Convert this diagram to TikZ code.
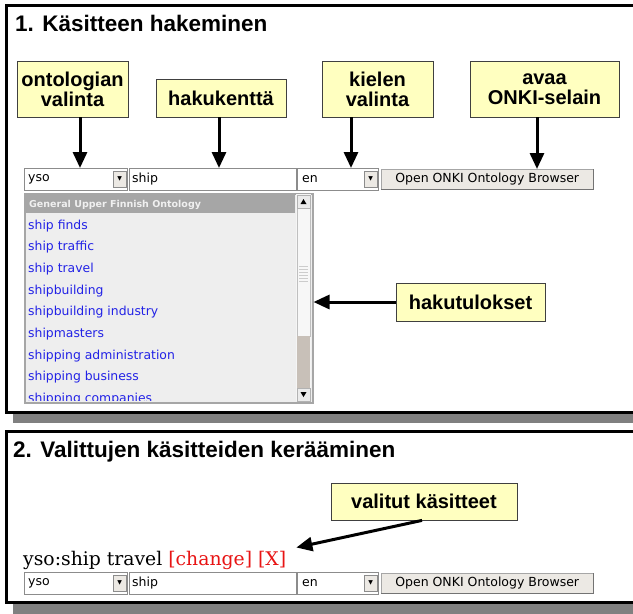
\documentclass[tikz,border=0pt]{standalone}
\usepackage{fontspec}
\setmainfont{DejaVu Sans}
\newfontfamily\labelfont{Liberation Sans}
\newfontfamily\webserif{DejaVu Serif}
\usepackage{tikz}
\usetikzlibrary{arrows.meta}

\definecolor{kelta}{RGB}{255,255,192}
\definecolor{varjo}{RGB}{128,128,128}
\definecolor{listatausta}{RGB}{238,238,238}
\definecolor{otsikkoharmaa}{RGB}{166,166,166}
\definecolor{linkki}{RGB}{34,34,230}
\definecolor{punainen}{RGB}{232,20,20}
\definecolor{nappiharmaa}{RGB}{236,233,228}
\definecolor{rulla}{RGB}{200,192,184}

\begin{document}
\begin{tikzpicture}
		[x = 1pt, y = -1pt,
		 callout/.style = {draw = black!75, fill = kelta, line width = 0.8pt, align = center,
		                   inner sep = 0pt, font = \labelfont\bfseries\fontsize{20}{20}\selectfont},
		 otsikko/.style = {anchor = base west, inner sep = 0pt, font = \labelfont\bfseries\fontsize{22.5}{24}\selectfont},
		 nuoli/.style = {line width = 3pt, -{Triangle[length = 16pt, width = 14pt]}},
		 kehys/.style = {draw = black, line width = 3pt},
		 kentta/.style = {draw = black!45, fill = white, line width = 0.8pt, minimum height = 22,
		                  inner sep = 0pt, anchor = north west},
		 lomake/.style = {anchor = west, inner sep = 0pt, font = \fontsize{12.5}{14}\selectfont},
		 avaus/.style = {draw = black!45, fill = nappiharmaa, minimum width = 13, minimum height = 16,
		                 inner sep = 0pt, anchor = east, font = \fontsize{6}{6}\selectfont},
		 painike/.style = {draw = black!35, fill = nappiharmaa, minimum width = 212, minimum height = 20,
		                   inner sep = 0pt, anchor = north west, font = \fontsize{12.5}{14}\selectfont},
		 tulos/.style = {anchor = base west, inner sep = 0pt, text = linkki, font = \fontsize{12.4}{14}\selectfont}]
	\useasboundingbox (0,0) rectangle (633,614);
	\clip (0,0) rectangle (633,614);
	% paneelit
	\fill[varjo] (13,414) rectangle (650,423);
	\draw[kehys, fill = white] (6.5,5.5) rectangle (650,412.5);
	\fill[varjo] (13,604) rectangle (650,620);
	\draw[kehys, fill = white] (6.5,431.5) rectangle (650,602.5);
	\node[otsikko] (otsikko1) at (15,31) {1. Käsitteen hakeminen};
	\node[otsikko] (otsikko2) at (13,457) {2. Valittujen käsitteiden kerääminen};
	% lomakerivit
	\foreach \ry/\r in {168/a, 572/b} {
		\node[kentta, minimum width = 103] (onto\r) at (24,\ry) {};
		\node[lomake] (ontoteksti\r) at ([xshift = 4]onto\r.west) {yso};
		\node[avaus] (ontoavaus\r) at ([xshift = -1.5]onto\r.east) {▼};
		\node[kentta, minimum width = 167] (haku\r) at (129,\ry) {};
		\node[lomake] (hakuteksti\r) at ([xshift = 3]haku\r.west) {ship};
		\node[kentta, minimum width = 81] (kieli\r) at (297,\ry) {};
		\node[lomake] (kieliteksti\r) at ([xshift = 5]kieli\r.west) {en};
		\node[avaus] (kieliavaus\r) at ([xshift = -1.5]kieli\r.east) {▼};
		\node[painike] (selain\r) at (381,\ry+1) {Open ONKI Ontology Browser};
		\draw[black!55, line width = 1.2pt] (selain\r.north east) -- (selain\r.south east) -- (selain\r.south west);
	}
	% hakutulokset
	\node[draw = black!35, fill = listatausta, line width = 1.5pt, minimum width = 288, minimum height = 209,
	      inner sep = 0pt, anchor = north west] (tulokset) at (24,193) {};
	\fill[otsikkoharmaa] (25,194) rectangle (295,213);
	\node[anchor = base west, inner sep = 0pt, text = white!94!black, font = \bfseries\fontsize{9.5}{10}\selectfont]
		(ryhma) at (29,207) {General Upper Finnish Ontology};
	\begin{scope}
		\clip (25,213) rectangle (295,400);
		\foreach \termi [count = \i from 0] in {ship finds, ship traffic, ship travel, shipbuilding,
				shipbuilding industry, shipmasters, shipping administration, shipping business, shipping companies}
			\node[tulos] (termi\i) at (28,229+21.7*\i) {\termi};
	\end{scope}
	% vierityspalkki
	\fill[white!96!black] (296,194) rectangle (311,401);
	\draw[black!25, fill = white!97!black] (297,208) rectangle (310,336);
	\fill[rulla] (297,336) rectangle (310,388);
	\foreach \gy in {266,269,...,281}
		\draw[black!20, line width = 0.6pt] (299,\gy) -- (308,\gy);
	\draw[black!30, fill = white!92!black] (297,195) rectangle (310,208);
	\draw[black!30, fill = white!92!black] (297,388) rectangle (310,401);
	\fill (303.5,199) -- (306.5,204) -- (300.5,204) -- cycle;
	\fill (303.5,397) -- (306.5,392) -- (300.5,392) -- cycle;
	% valittu kasite
	\node[anchor = base west, inner sep = 0pt, font = \webserif\fontsize{18.8}{20}\selectfont]
		(valittu) at (23,565) {yso:ship travel \textcolor{punainen}{[change] [X]}};
	% selitteet
	\node[callout, minimum width = 111, minimum height = 56] (ontologia) at (72.5,89) {ontologian\\valinta};
	\node[callout, minimum width = 130, minimum height = 38] (hakukentta) at (221,98) {hakukenttä};
	\node[callout, minimum width = 111, minimum height = 56] (kieli) at (377.5,89) {kielen\\valinta};
	\node[callout, minimum width = 149, minimum height = 56] (selain) at (544.5,89) {avaa\\ONKI-selain};
	\node[callout, minimum width = 149, minimum height = 38] (hakutulokset) at (470.5,302) {hakutulokset};
	\node[callout, minimum width = 186, minimum height = 37] (valitut) at (424,501.5) {valitut käsitteet};
	% nuolet
	\draw[nuoli] ([xshift = 7.5]ontologia.south) -- ([xshift = 7.5]ontologia.south |- ontoa.north);
	\draw[nuoli] ([xshift = -2]hakukentta.south) -- ([xshift = -2]hakukentta.south |- hakua.north);
	\draw[nuoli] ([xshift = -26.5]kieli.south) -- ([xshift = -26.5]kieli.south |- kielia.north);
	\draw[nuoli] ([xshift = -7.5]selain.south) -- ([xshift = -7.5]selain.south |- selaina.north);
	\draw[nuoli] (hakutulokset.west) -- (hakutulokset.west -| tulokset.east);
	\draw[nuoli] ([xshift = -2]valitut.south) -- ([shift = {(10pt,3pt)}]valittu.north east);
\end{tikzpicture}
\end{document}
